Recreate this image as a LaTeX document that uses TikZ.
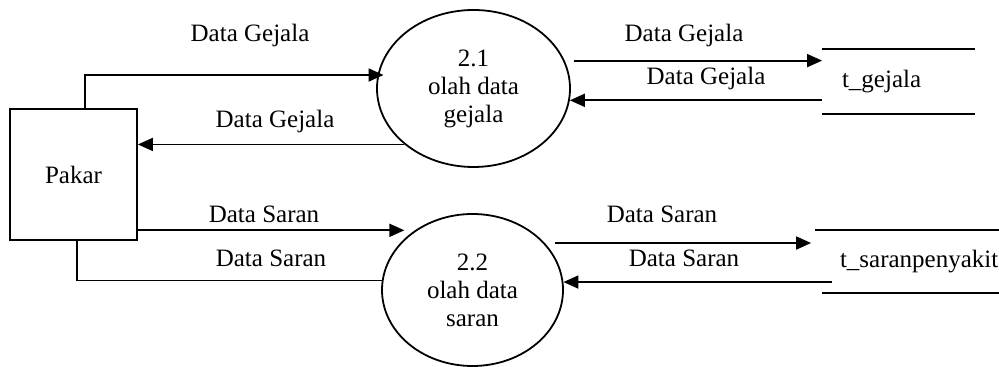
\documentclass[tikz,border=0pt]{standalone}
\usepackage{fontspec}
\setmainfont{Liberation Serif}
\usetikzlibrary{shapes.geometric,arrows.meta}

\begin{document}
\begin{tikzpicture}[x=0.5pt,y=-0.5pt,line width=0.9pt,
    every node/.style={font=\fontsize{12.5}{14}\selectfont},
    alur/.style={-{Triangle[length=7.5pt,width=6.5pt]}},
    entitas/.style={draw,rectangle,inner sep=0pt,minimum width=63.5pt,minimum height=65.5pt},
    proses/.style={draw,ellipse,align=center,inner sep=0pt},
    simpanan/.style={rectangle,align=left,inner ysep=0pt}]
    \useasboundingbox (0,0) rectangle (999,367);
    \node[entitas] (pakar) at (73.5,174.5) {Pakar};
    \node[proses,minimum width=96.5pt,minimum height=78.5pt] (p21) at (473.5,88.5) {2.1\\olah data\\gejala};
    \node[proses,minimum width=90.5pt,minimum height=76pt] (p22) at (472.5,290) {2.2\\olah data\\saran};
    \node[simpanan,text width=56.5pt,inner xsep=9.5pt,minimum height=31.5pt] (sgejala) at (898.5,81.5) {t\_gejala};
    \node[simpanan,text width=71pt,inner xsep=8.5pt,minimum height=30.5pt] (ssaran) at (911,261.5) {t\_saranpenyakit};
    \draw (sgejala.north west) -- (sgejala.north east) (sgejala.south west) -- (sgejala.south east);
    \draw ([xshift=-3.5pt]ssaran.north west) -- (ssaran.north east) (ssaran.south west) -- (ssaran.south east);
    % aliran pakar <-> proses
    \draw[alur] ([xshift=5.75pt]pakar.north) |- ([xshift=3pt]p21.172);
    \draw[alur] (p21.219) -- (p21.219 -| pakar.east);
    \draw[alur] (p22.134 -| pakar.east) -- ([xshift=-5.25pt]p22.134);
    \draw ([xshift=1.75pt]pakar.south) |- (p22.174);
    % aliran proses <-> simpanan
    \draw[alur,shorten <=4.5pt] (p21.17) -- (p21.17 -| sgejala.west);
    \draw[alur] (p21.353 -| sgejala.west) -- (p21.353);
    \draw[alur,shorten <=5pt,shorten >=5.5pt] (p22.33) -- (p22.33 -| ssaran.west);
    \draw[alur,shorten <=-5pt] (p22.5 -| ssaran.west) -- (p22.5);
    \foreach[count=\i] \teks/\x/\y in {Data Gejala/250/42, Data Gejala/275/128,
        Data Saran/264/223, Data Saran/271/267, Data Gejala/684/42,
        Data Gejala/706/85, Data Saran/662/223, Data Saran/684/267} {
        \node[anchor=base,inner sep=0pt] (lbl\i) at (\x,\y) {\teks};
    }
\end{tikzpicture}
\end{document}
